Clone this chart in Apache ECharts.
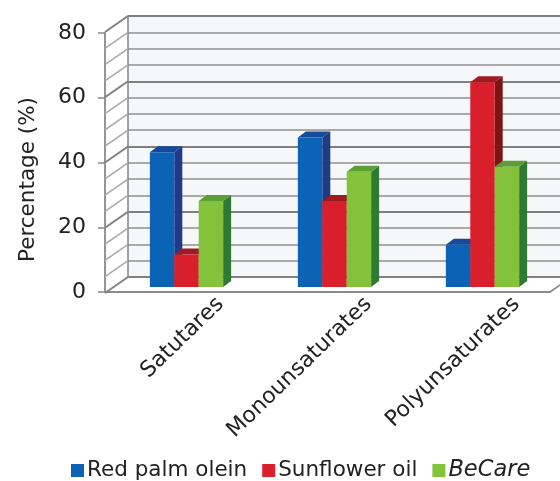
<!DOCTYPE html>
<html>
<head>
<meta charset="utf-8">
<script src="https://cdn.jsdelivr.net/npm/echarts@6/dist/echarts.min.js"></script>
<style>
    html, body { margin: 0; padding: 0; background: #fff; }
    #chartDiv { width: 560px; height: 481px; }
</style>
</head>
<body>
<div id="chartDiv"></div>
<script>
let categories = ["Satutares", "Monounsaturates", "Polyunsaturates"];
let seriesNames = ["Red palm olein", "Sunflower oil", "BeCare"];
let redPalmOlein = [41.5, 46, 13];
let sunflowerOil = [10, 26.5, 63];
let beCare = [26.5, 35.5, 37];
let gridValues = [0, 5, 10, 15, 20, 25, 30, 35, 40, 45, 50, 55, 60, 65, 70, 75, 80];

let fontName = "DejaVu Sans";
let chart = echarts.init(document.getElementById("chartDiv"));

// front, side and top colours of each series
let faceColors = [
    ["#0c63b6", "#1f3a86", "#17499c"],
    ["#d91f2b", "#7c1515", "#a11a20"],
    ["#84c23c", "#2e7a35", "#5b9e34"],
];

// depth of the box, in pixels
let depthX = 23, depthY = -16;
let barDX = 8, barDY = -6;

function barRenderer(seriesIdx) {
    return function (params, api) {
        let catIdx = api.value(0);
        let top = api.coord([catIdx, api.value(1)]);
        let bottom = api.coord([catIdx, 0]);
        let band = api.size([1, 0])[0];
        let w = band * 0.165;
        let x0 = top[0] + (seriesIdx - 1.5) * w;
        let x1 = x0 + w;
        let yt = top[1], yb = bottom[1];
        let c = faceColors[seriesIdx];
        return {
            type: "group",
            children: [
                {
                    type: "polygon",
                    shape: { points: [[x1, yt], [x1 + barDX, yt + barDY], [x1 + barDX, yb + barDY], [x1, yb]] },
                    style: { fill: c[1] },
                },
                {
                    type: "polygon",
                    shape: { points: [[x0, yt], [x0 + barDX, yt + barDY], [x1 + barDX, yt + barDY], [x1, yt]] },
                    style: { fill: c[2] },
                },
                {
                    type: "rect",
                    shape: { x: x0, y: yt, width: w, height: yb - yt },
                    style: { fill: c[0] },
                },
            ],
        };
    };
}

function sideWallRenderer(params, api) {
    let p = api.coord([0, api.value(0)]);
    let major = api.value(0) % 20 === 0;
    return {
        type: "line",
        shape: { x1: p[0], y1: p[1], x2: p[0] - depthX, y2: p[1] - depthY },
        style: { stroke: major ? "#808080" : "#a9a9a9", lineWidth: major ? 2 : 1.6 },
    };
}

// category names, slanted, under the floor
function categoryLabelRenderer(params, api) {
    let p = api.coord([api.value(0), 0]);
    return {
        type: "text",
        x: p[0] + 34,
        y: p[1] + 14,
        rotation: (44 * Math.PI) / 180,
        style: {
            text: categories[params.dataIndex],
            fill: "#222",
            font: "22px " + fontName,
            align: "right",
            verticalAlign: "middle",
        },
    };
}

let barData = [redPalmOlein, sunflowerOil, beCare];

let options = {
    animation: false,
    textStyle: { fontFamily: fontName },
    legend: {
        top: 454,
        left: 66,
        itemWidth: 13,
        itemHeight: 13,
        itemGap: 15,
        icon: "rect",
        textStyle: { fontSize: 21.5, color: "#222", fontFamily: fontName, padding: [0, 0, 0, -2] },
        data: [
            { name: seriesNames[0], itemStyle: { color: faceColors[0][0] } },
            { name: seriesNames[1], itemStyle: { color: faceColors[1][0] } },
            { name: seriesNames[2], itemStyle: { color: faceColors[2][0] }, textStyle: { fontStyle: "italic", fontSize: 22.5 } },
        ],
    },
    grid: [
        // bar plane
        { left: 112.5, top: 27, height: 260, width: 444 },
        // back wall
        { left: 128, top: 16, height: 261, width: 460, backgroundColor: "#f5f7f9", show: true, borderWidth: 0 },
        // front axis
        { left: 105, top: 33, height: 259, width: 445 },
    ],
    xAxis: [
        { gridIndex: 0, type: "category", data: categories, show: false },
        { gridIndex: 1, type: "value", min: 0, max: 1, show: false },
        {
            gridIndex: 2, type: "value", min: 0, max: 1,
            axisLine: { show: true, lineStyle: { color: "#8a8a8a", width: 1.8 } },
            axisTick: { show: false }, axisLabel: { show: false }, splitLine: { show: false },
        },
    ],
    yAxis: [
        { gridIndex: 0, type: "value", min: 0, max: 80, show: false },
        {
            gridIndex: 1, type: "value", min: 0, max: 80, interval: 5,
            axisLine: { show: true, lineStyle: { color: "#8a8a8a", width: 1.6 } },
            axisTick: { show: false }, axisLabel: { show: false },
            splitLine: {
                show: true,
                lineStyle: { color: ["#808080", "#a9a9a9", "#a9a9a9", "#a9a9a9"], width: 1.8 },
            },
        },
        {
            gridIndex: 2, type: "value", min: 0, max: 80, interval: 20,
            name: "Percentage (%)", nameLocation: "middle", nameGap: 66,
            nameTextStyle: { fontSize: 21.5, color: "#222", padding: [0, 34, 0, 0] },
            axisLine: { show: true, lineStyle: { color: "#8a8a8a", width: 1.8 } },
            axisTick: { show: true, length: 7, lineStyle: { color: "#8a8a8a", width: 1.5 } },
            axisLabel: { fontSize: 22, color: "#222", margin: 19 },
            splitLine: { show: false },
        },
    ],
    series: [
        {
            type: "custom", xAxisIndex: 1, yAxisIndex: 1, silent: true,
            renderItem: sideWallRenderer,
            data: gridValues.map((v) => [v]),
            encode: { x: -1, y: 0 },
        },
        {
            type: "custom", xAxisIndex: 2, yAxisIndex: 2, silent: true,
            renderItem: function (params, api) {
                let p = api.coord([1, 0]);
                return {
                    type: "line",
                    shape: { x1: p[0], y1: p[1], x2: p[0] + depthX, y2: p[1] + depthY },
                    style: { stroke: "#8a8a8a", lineWidth: 1.6 },
                };
            },
            data: [[1, 0]],
        },
        {
            type: "custom", xAxisIndex: 0, yAxisIndex: 0, silent: true,
            renderItem: categoryLabelRenderer,
            data: categories.map((c, k) => [k, 0]),
        },
    ],
};

barData.forEach(function (values, i) {
    options.series.push({
        name: seriesNames[i],
        type: "custom",
        xAxisIndex: 0,
        yAxisIndex: 0,
        itemStyle: { color: faceColors[i][0] },
        renderItem: barRenderer(i),
        encode: { x: 0, y: 1 },
        data: values.map((v, k) => [k, v]),
        z: 3 + i,
    });
});

chart.setOption(options);
</script>
</body>
</html>
